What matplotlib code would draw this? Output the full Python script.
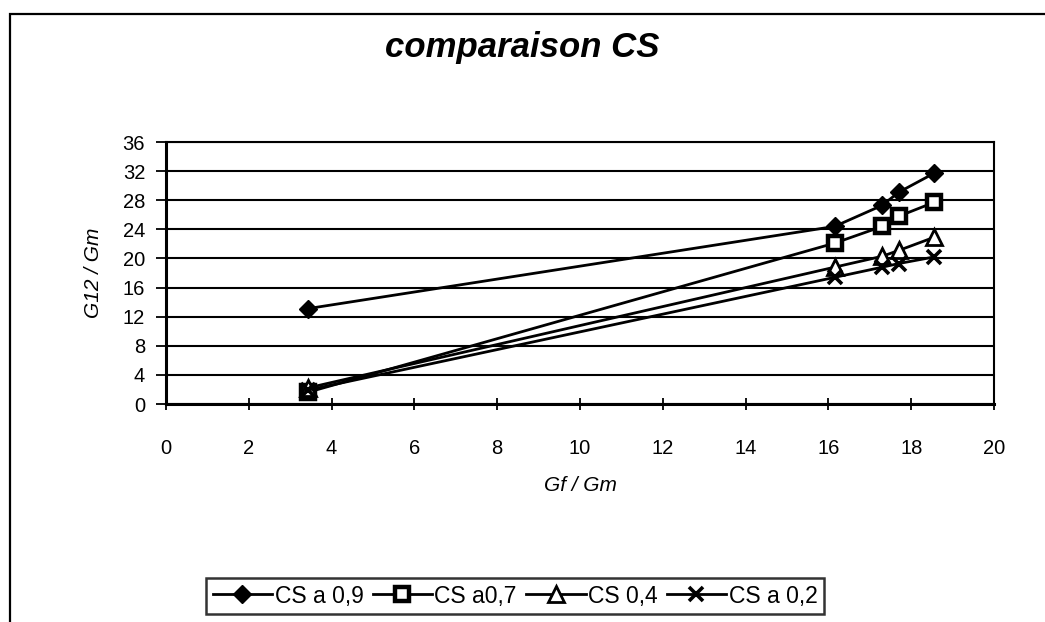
import matplotlib
matplotlib.use('Agg')
import matplotlib.pyplot as plt
from matplotlib.patches import Rectangle

plt.rcParams['font.family'] = ['Liberation Sans', 'DejaVu Sans']

# Gf/Gm ratio and G12/Gm for each CS case
gf_gm = [3.42, 16.15, 17.3, 17.7, 18.55]
cs_09 = [13.1, 24.4, 27.3, 29.1, 31.7]
cs_07 = [1.6, 22.1, 24.4, 25.8, 27.7]
cs_04 = [2.2, 18.8, 20.3, 21.1, 22.9]
cs_02 = [1.9, 17.4, 18.8, 19.3, 20.2]
labels = ['CS a 0,9', 'CS a0,7', 'CS 0,4', 'CS a 0,2']

fig = plt.figure(figsize=(10.45, 6.22), dpi=100)
fig.patch.set_facecolor('white')

# chart frame (only top/left edges fall inside the image)
fig.patches.append(Rectangle((10 / 1045, -0.1), 1.2, 1 - 14 / 622 + 0.1,
                             transform=fig.transFigure, fill=False,
                             edgecolor='black', linewidth=1.6))

ax = fig.add_axes([166 / 1045, 1 - 404 / 622, 828 / 1045, 262 / 622])

lw = 2
ax.plot(gf_gm, cs_09, color='black', lw=lw, marker='D', ms=9,
        mfc='black', mec='black', label=labels[0], zorder=5)
ax.plot(gf_gm, cs_07, color='black', lw=lw, marker='s', ms=10,
        mfc='white', mec='black', mew=3.2, label=labels[1], zorder=5)
ax.plot(gf_gm, cs_04, color='black', lw=lw, marker='^', ms=11,
        mfc='white', mec='black', mew=2, label=labels[2], zorder=5)
ax.plot(gf_gm, cs_02, color='black', lw=lw, marker='x', ms=10,
        mec='black', mew=2.6, label=labels[3], zorder=5)

ax.set_xlim(0, 20)
ax.set_ylim(0, 36)
ax.set_xticks(range(0, 21, 2))
ax.set_yticks(range(0, 37, 4))
ax.yaxis.grid(True, color='black', lw=1.5)
ax.set_axisbelow(True)
for s in ax.spines.values():
    s.set_linewidth(1.5)
ax.spines['left'].set_linewidth(2.2)
ax.spines['bottom'].set_linewidth(2.2)

ax.tick_params(axis='x', direction='inout', length=8, width=1.3,
               pad=21, labelsize=14.5)
ax.tick_params(axis='y', direction='out', length=7, width=1.3,
               pad=8, labelsize=14.5)

ax.set_xlabel('Gf / Gm', fontsize=15, fontstyle='italic')
ax.set_ylabel('G12 / Gm', fontsize=15, fontstyle='italic')
ax.xaxis.set_label_coords(0.5, -0.275)
ax.yaxis.set_label_coords(-0.076, 0.5)

fig.text(0.5, 1 - 48 / 622, 'comparaison CS', ha='center', va='center',
         fontsize=25, fontweight='bold', fontstyle='italic')

leg = fig.legend(loc='center', bbox_to_anchor=(515 / 1045, 1 - 596 / 622),
                 ncol=4, fontsize=16.5, frameon=True, fancybox=False,
                 handlelength=2.6, handletextpad=0.1, columnspacing=0.4,
                 borderpad=0.3, borderaxespad=0)
leg.get_frame().set_edgecolor('black')
leg.get_frame().set_linewidth(1.8)

fig.savefig('out.png', dpi=100)
